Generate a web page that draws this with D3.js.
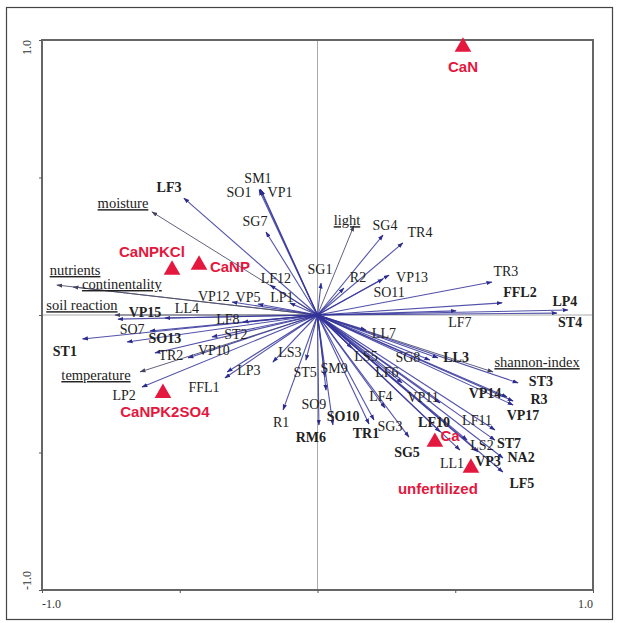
<!DOCTYPE html>
<html><head><meta charset="utf-8">
<script src="https://cdn.jsdelivr.net/npm/d3@7"></script>
<style>body{margin:0;background:#fff}</style>
</head><body><svg id="c" width="619" height="623"></svg>
<script>
// ---- data (ordination scores) ----
const speciesNames = ["SM1","SO1","VP1","SG7","LF3","LF12","VP12","VP5","LP1","VP15","LL4","LF8","SO7","SO13","ST1","ST2","TR2","VP10","LP2","FFL1","LS3","LP3","ST5","SM9","R1","SO9","SO10","RM6","TR1","SG3","SG5","LF4","LF6","LS5","LL7","SG8","LL3","VP11","LF10","LF11","LS2","LL1","VP3","ST7","NA2","LF5","VP17","R3","VP14","ST3","LF7","ST4","LP4","FFL2","TR3","SO11","VP13","R2","SG1","SG4","TR4"];
const speciesX = [-0.209,-0.212,-0.205,-0.187,-0.485,-0.172,-0.310,-0.216,-0.100,-0.724,-0.554,-0.270,-0.608,-0.691,-0.853,-0.383,-0.590,-0.470,-0.637,-0.336,-0.162,-0.328,-0.042,0.027,-0.125,0.031,0.056,0.005,0.187,0.205,0.332,0.245,0.307,0.125,0.176,0.408,0.437,0.445,0.445,0.644,0.543,0.517,0.583,0.644,0.673,0.673,0.710,0.710,0.688,0.728,0.503,0.869,0.909,0.670,0.633,0.238,0.260,0.096,0.013,0.238,0.310];
const speciesY = [0.458,0.455,0.455,0.302,0.425,0.109,0.047,0.040,0.044,-0.015,-0.011,-0.025,-0.058,-0.098,-0.087,-0.080,-0.138,-0.156,-0.262,-0.229,-0.171,-0.207,-0.164,-0.225,-0.345,-0.273,-0.400,-0.400,-0.396,-0.382,-0.444,-0.338,-0.247,-0.120,-0.055,-0.164,-0.156,-0.320,-0.425,-0.418,-0.455,-0.491,-0.498,-0.455,-0.520,-0.571,-0.327,-0.313,-0.298,-0.247,0.015,0.007,0.018,0.044,0.120,0.131,0.145,0.098,0.116,0.291,0.262];
const speciesLabelX = [-0.216,-0.285,-0.136,-0.227,-0.539,-0.151,-0.376,-0.252,-0.129,-0.626,-0.474,-0.325,-0.673,-0.554,-0.917,-0.296,-0.532,-0.376,-0.702,-0.412,-0.100,-0.249,-0.045,0.060,-0.132,-0.013,0.093,-0.024,0.176,0.263,0.325,0.230,0.252,0.176,0.241,0.328,0.503,0.383,0.423,0.579,0.597,0.488,0.619,0.695,0.739,0.742,0.746,0.804,0.608,0.811,0.517,0.917,0.898,0.735,0.684,0.260,0.343,0.147,0.009,0.245,0.372];
const speciesLabelY = [0.498,0.447,0.447,0.342,0.465,0.135,0.069,0.065,0.065,0.011,0.025,-0.015,-0.051,-0.084,-0.131,-0.069,-0.145,-0.127,-0.291,-0.262,-0.135,-0.200,-0.207,-0.193,-0.389,-0.324,-0.367,-0.444,-0.429,-0.404,-0.498,-0.295,-0.207,-0.149,-0.065,-0.153,-0.153,-0.298,-0.389,-0.382,-0.473,-0.538,-0.531,-0.465,-0.516,-0.611,-0.364,-0.305,-0.284,-0.240,-0.025,-0.025,0.051,0.084,0.160,0.084,0.138,0.138,0.167,0.327,0.302];
const boldSpecies = ["LF3","VP15","SO13","ST1","SO10","RM6","TR1","SG5","LF10","LL3","VP14","ST3","R3","VP17","ST7","VP3","NA2","LF5","FFL2","LP4","ST4"];

const envNames = ["moisture","nutrients","continentality","soil reaction","temperature","light","shannon-index"];
const envX = [-0.601,-0.946,-0.887,-0.735,-0.644,0.132,0.637];
const envY = [0.375,0.109,0.102,0.000,-0.207,0.324,-0.207];
const envLabelX = [-0.706,-0.880,-0.710,-0.855,-0.804,0.107,0.797];
const envLabelY = [0.407,0.164,0.113,0.036,-0.218,0.345,-0.171];

const sampleNames = ["CaN","CaNPKCl","CaNP","CaNPK2SO4","Ca","unfertilized"];
const sampleX = [0.528,-0.528,-0.430,-0.561,0.426,0.557];
const sampleY = [0.975,0.164,0.182,-0.284,-0.462,-0.556];
const sampleLabelX = [0.528,-0.601,-0.318,-0.554,0.481,0.437];
const sampleLabelY = [0.902,0.229,0.175,-0.350,-0.440,-0.633];

const xTicks = [-1.0,-0.5,0,0.5,1.0];
const yTicks = [-1.0,-0.5,0,0.5,1.0];
const xTickLabels = ["-1.0","1.0"];
const yTickLabels = ["-1.0","1.0"];

// ---- drawing ----
const svg = d3.select("#c");
const L=42, R=593, T=40, B=590;
const x = d3.scaleLinear().domain([-1,1]).range([L,R]);
const y = d3.scaleLinear().domain([-1,1]).range([B,T]);

svg.append("rect").attr("x",6.5).attr("y",7.5).attr("width",606).attr("height",612)
  .attr("fill","none").attr("stroke","#444").attr("stroke-width",1.2);

// zero lines
svg.append("line").attr("x1",x(0)).attr("x2",x(0)).attr("y1",T).attr("y2",B).attr("stroke","#aaa").attr("stroke-width",1);
svg.append("line").attr("x1",L).attr("x2",R).attr("y1",y(0)).attr("y2",y(0)).attr("stroke","#aaa").attr("stroke-width",1);

// frame
svg.append("rect").attr("x",L).attr("y",T).attr("width",R-L).attr("height",B-T)
  .attr("fill","none").attr("stroke","#666").attr("stroke-width",2);

// ticks
const xAx = d3.axisBottom(x).tickValues(xTicks).tickSize(3).tickFormat(d=>"");
svg.append("g").attr("transform",`translate(0,${B})`).call(xAx).call(g=>{g.select(".domain").remove();g.selectAll("line").attr("stroke","#555");});
const yAx = d3.axisLeft(y).tickValues(yTicks).tickSize(3).tickFormat(d=>"");
svg.append("g").attr("transform",`translate(${L},0)`).call(yAx).call(g=>{g.select(".domain").remove();g.selectAll("line").attr("stroke","#555");});

const tickFont = {"font-family":"Liberation Serif, serif","font-size":"12px","fill":"#333"};
function styleIt(sel,o){for(const k in o) sel.attr(k,o[k]); return sel;}
styleIt(svg.append("text").attr("x",x(-1)).attr("y",B+18).attr("text-anchor","start").text(xTickLabels[0]),tickFont);
styleIt(svg.append("text").attr("x",x(1)).attr("y",B+18).attr("text-anchor","end").text(xTickLabels[1]),tickFont);
styleIt(svg.append("text").attr("transform",`translate(${L-11},${y(1)}) rotate(-90)`).attr("text-anchor","end").text(yTickLabels[1]),tickFont);
styleIt(svg.append("text").attr("transform",`translate(${L-11},${y(-1)}) rotate(-90)`).attr("text-anchor","start").text(yTickLabels[0]),tickFont);

// arrow markers
const defs = svg.append("defs");
function marker(id,color){
  defs.append("marker").attr("id",id).attr("viewBox","0 0 10 10").attr("refX",9).attr("refY",5)
   .attr("markerWidth",6).attr("markerHeight",6).attr("markerUnits","userSpaceOnUse").attr("orient","auto")
   .append("path").attr("d","M0,1.5L10,5L0,8.5Z").attr("fill",color);
}
marker("ms","#2c2c8c"); marker("me","#444460");

const sp = speciesNames.map((n,i)=>({n,x:speciesX[i],y:speciesY[i],lx:speciesLabelX[i],ly:speciesLabelY[i],b:boldSpecies.includes(n)}));
const env = envNames.map((n,i)=>({n,x:envX[i],y:envY[i],lx:envLabelX[i],ly:envLabelY[i]}));
const smp = sampleNames.map((n,i)=>({n,x:sampleX[i],y:sampleY[i],lx:sampleLabelX[i],ly:sampleLabelY[i]}));

svg.append("g").selectAll("line").data(env).join("line")
  .attr("x1",x(0)).attr("y1",y(0)).attr("x2",d=>x(d.x)).attr("y2",d=>y(d.y))
  .attr("stroke","#50506e").attr("stroke-width",0.9).attr("marker-end","url(#me)");
svg.append("g").selectAll("line").data(sp).join("line")
  .attr("x1",x(0)).attr("y1",y(0)).attr("x2",d=>x(d.x)).attr("y2",d=>y(d.y))
  .attr("stroke","#34349a").attr("stroke-opacity",0.85).attr("stroke-width",1.1).attr("marker-end","url(#ms)");

svg.append("g").selectAll("text").data(sp).join("text")
  .attr("x",d=>x(d.lx)).attr("y",d=>y(d.ly)).attr("dy","0.35em").attr("text-anchor","middle")
  .attr("font-family","Liberation Serif, serif").attr("font-size","14px")
  .attr("font-weight",d=>d.b?"bold":"normal").attr("fill","#222").text(d=>d.n);

svg.append("g").selectAll("text").data(env).join("text")
  .attr("x",d=>x(d.lx)).attr("y",d=>y(d.ly)).attr("dy","0.35em").attr("text-anchor","middle")
  .attr("font-family","Liberation Serif, serif").attr("font-size","14.5px")
  .attr("text-decoration","underline").attr("fill","#222").text(d=>d.n);

const tri = d3.symbol().type(d3.symbolTriangle).size(120);
svg.append("g").selectAll("path").data(smp).join("path")
  .attr("d",tri).attr("transform",d=>`translate(${x(d.x)},${y(d.y)})`).attr("fill","#e4173e");
svg.append("g").selectAll("text").data(smp).join("text")
  .attr("x",d=>x(d.lx)).attr("y",d=>y(d.ly)).attr("dy","0.35em").attr("text-anchor","middle")
  .attr("font-family","Liberation Sans, Arial, sans-serif").attr("font-size","15px").attr("font-weight","bold")
  .attr("fill","#e4173e").text(d=>d.n);
</script></body></html>
